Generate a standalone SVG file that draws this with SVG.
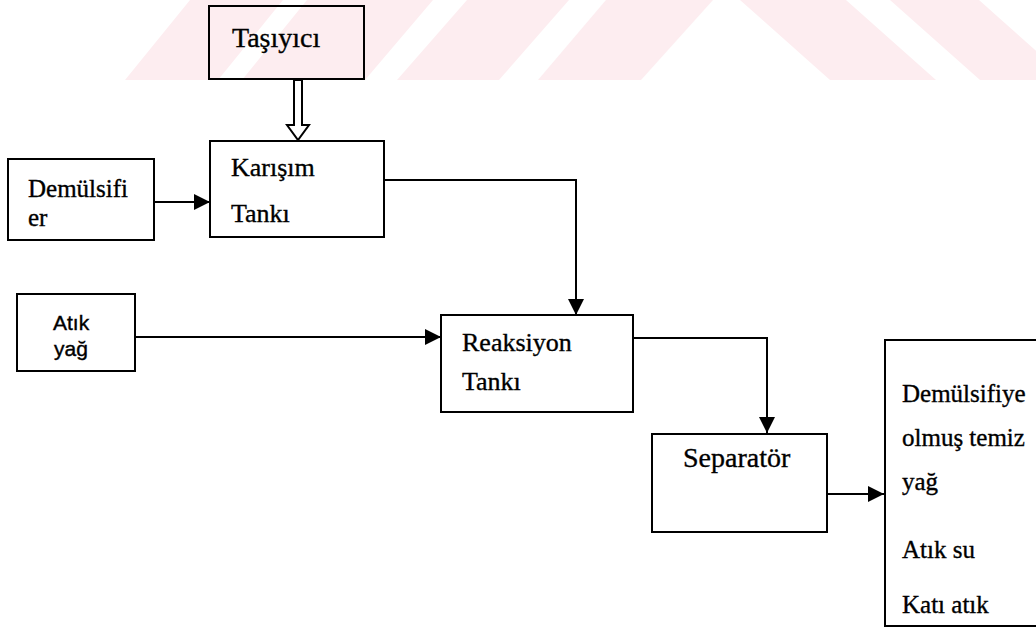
<svg xmlns="http://www.w3.org/2000/svg" width="1036" height="628" viewBox="0 0 1036 628">
  <defs>
    <marker id="arr" viewBox="0 0 16 16" refX="16" refY="8" markerWidth="16" markerHeight="16" markerUnits="userSpaceOnUse" orient="auto">
      <path d="M0,0 L16,8 L0,16 Z" fill="#000"/>
    </marker>
    <style>
      .wm { fill: #fdedf0; }
      .box { fill: none; stroke: #000; stroke-width: 2; }
      .line { fill: none; stroke: #000; stroke-width: 2; }
      .serif { font-family: "Liberation Serif", "Times New Roman", serif; fill: #000; stroke: #000; stroke-width: 0.35; }
      .sans { font-family: "Liberation Sans", Arial, sans-serif; fill: #000; stroke: #000; stroke-width: 0.4; }
    </style>
  </defs>
  <rect x="0" y="0" width="1036" height="628" fill="#fff"/>
  <g id="watermark">
    <polygon class="wm" points="125,80 218,80 283,0 190,0"/>
    <polygon class="wm" points="242,80 365,80 433,0 307,0"/>
    <polygon class="wm" points="397,80 499,80 569,0 467,0"/>
    <polygon class="wm" points="538,80 641,80 713,0 606,0"/>
    <polygon class="wm" points="740,0 846,0 936,80 830,80"/>
    <polygon class="wm" points="890,0 979,0 1069,80 980,80"/>
  </g>
  <g id="connectors">
    <path class="line" d="M154,202 L210,202" marker-end="url(#arr)"/>
    <path class="line" d="M384,180 L576,180 L576,315" marker-end="url(#arr)"/>
    <path class="line" d="M135,337 L441,337" marker-end="url(#arr)"/>
    <path class="line" d="M633,338 L767,338 L767,433" marker-end="url(#arr)"/>
    <path class="line" d="M827,494 L884,494" marker-end="url(#arr)"/>
    <path d="M294,80 L302,80 L302,125 L309,125 L298,140 L287,125 L294,125 Z" fill="#fff" stroke="#000" stroke-width="2" stroke-linejoin="miter"/>
  </g>
  <g id="tasiyici">
    <rect class="box" x="209" y="6" width="155" height="73"/>
    <text class="serif" x="232" y="47" font-size="28">Taşıyıcı</text>
  </g>
  <g id="karisim">
    <rect class="box" x="210" y="141" width="174" height="96"/>
    <text class="serif" x="231" y="176" font-size="26">Karışım</text>
    <text class="serif" x="231" y="222" font-size="26">Tankı</text>
  </g>
  <g id="demulsifier">
    <rect class="box" x="8" y="159" width="146" height="81"/>
    <text class="serif" x="28" y="197" font-size="25">Demülsifi</text>
    <text class="serif" x="28" y="226" font-size="25">er</text>
  </g>
  <g id="atikyag">
    <rect class="box" x="17" y="294" width="118" height="77"/>
    <text class="sans" x="53" y="330" font-size="21">Atık</text>
    <text class="sans" x="54" y="356" font-size="21">yağ</text>
  </g>
  <g id="reaksiyon">
    <rect class="box" x="441" y="315" width="192" height="97"/>
    <text class="serif" x="462" y="351" font-size="26">Reaksiyon</text>
    <text class="serif" x="462" y="390" font-size="26">Tankı</text>
  </g>
  <g id="separator">
    <rect class="box" x="652" y="434" width="175" height="98"/>
    <text class="serif" x="683" y="467" font-size="28">Separatör</text>
  </g>
  <g id="output">
    <rect class="box" x="885" y="340" width="160" height="286"/>
    <text class="serif" x="902" y="402" font-size="25">Demülsifiye</text>
    <text class="serif" x="902" y="446" font-size="25">olmuş temiz</text>
    <text class="serif" x="902" y="490" font-size="25">yağ</text>
    <text class="serif" x="902" y="558" font-size="25">Atık su</text>
    <text class="serif" x="902" y="613" font-size="25">Katı atık</text>
  </g>
</svg>
